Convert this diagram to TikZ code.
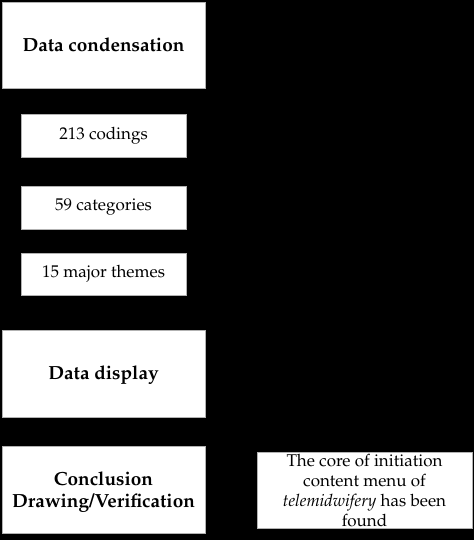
\documentclass[tikz,border=0pt]{standalone}
\usepackage[T1]{fontenc}
\usepackage{mathpazo}
\begin{document}
\begin{tikzpicture}[x=1pt,y=-1pt,
  box/.style={draw=gray!60,fill=white,line width=0.8pt,inner sep=0pt},
  big/.style={font=\fontsize{19}{24}\selectfont\bfseries},
  small/.style={font=\fontsize{17}{20}\selectfont}]
\fill[black] (0,0) rectangle (474,540);
\useasboundingbox (0,0) rectangle (474,540);
% boxes
\draw[box] (2,2) rectangle (205,88);
\node[big] (dc) at (103.5,45) {Data condensation};
\draw[box] (21,114) rectangle (186,157);
\node[small] (c1) at (103.5,135.5) {213 codings};
\draw[box] (21,186) rectangle (186,229);
\node[small] (c2) at (103.5,207.5) {59 categories};
\draw[box] (21,253) rectangle (186,295);
\node[small] (c3) at (103.5,274) {15 major themes};
\draw[box] (2,330) rectangle (205,417);
\node[big] (dd) at (103.5,375) {Data display};
\draw[box] (2,446) rectangle (205,533);
\node[align=center,font=\fontsize{19}{22}\selectfont\bfseries] (cd) at (103.5,492) {Conclusion\\Drawing/Verification};
\draw[box] (257,452) rectangle (472,528);
\node[align=center,font=\fontsize{17}{20}\selectfont] (res) at (364.5,491) {The core of initiation\\content menu of\\\textit{telemidwifery} has been\\found};
\end{tikzpicture}
\end{document}
